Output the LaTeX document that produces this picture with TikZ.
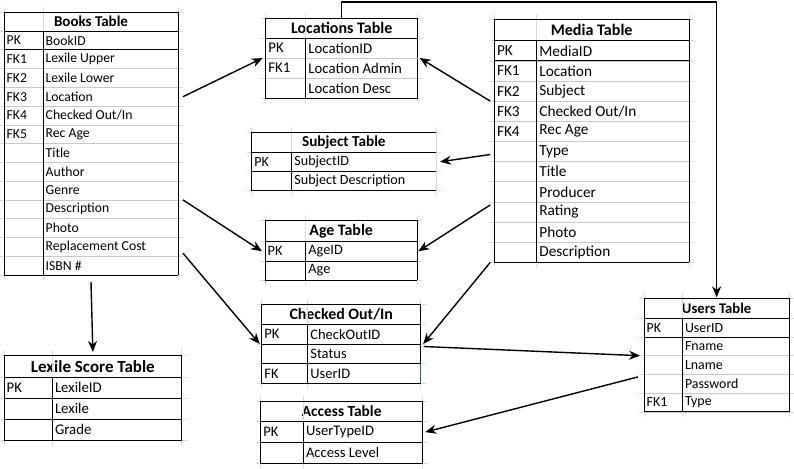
\documentclass[tikz,border=0pt]{standalone}
\usepackage{fontspec}
\setmainfont{Carlito}
\usepackage{tikz}
\usetikzlibrary{arrows.meta}
\definecolor{Grid}{HTML}{DADADA}
\definecolor{Rule}{HTML}{C8C8C8}
\definecolor{XGreen}{HTML}{217346}

\def\dbbody{14.5}
\def\dbhead{15.8}
\tikzset{
  db head/.style={inner sep=0pt, outer sep=0pt, font=\bfseries\fontsize{\dbhead}{\dbhead}\selectfont},
  db row/.style={inner sep=0pt, outer sep=0pt},
  db text/.style={inner sep=2.5pt, font=\fontsize{\dbbody}{\dbbody}\selectfont},
  grid rule/.style={Grid, line width=0.6pt},
  row rule/.style={Rule, line width=0.6pt},
  pk rule/.style={black, line width=0.8pt},
  outer rule/.style={black, line width=0.8pt},
  right rule/.style={outer rule},
  body size/.code={\def\dbbody{#1}},
  head size/.code={\def\dbhead{#1}},
  link/.style={-{Stealth[length=11pt, width=9pt]}, line width=1.4pt},
}

% name, left, top, key width, width, head height, row height, title, rows
\newcommand{\dbtable}[9]{%
  \node[db head, minimum width=#5pt, minimum height=#6pt, anchor=north west] (#1-h) at (#2,#3) {#8};
  \foreach \k/\f [count=\i] in {#9} {
    \node[db row, minimum width=#5pt, minimum height=#7pt, anchor=north west]
      (#1-\i) at (#2,{#3+#6+(\i-1)*#7}) {};
    \node[db text, anchor=west] at (#1-\i.west) {\k};
    \node[db text, anchor=west] at ([xshift=#4pt]#1-\i.west) {\f};
    \draw[grid rule] ([xshift=-5pt]#1-\i.south west) -- ([xshift=5pt]#1-\i.south east);
    \draw[row rule] (#1-\i.south west) -- (#1-\i.south east);
    \xdef\dblast{\i}
  }
  % spreadsheet grid stubs
  \draw[grid rule] ([xshift=-5pt]#1-h.north west) -- ([xshift=5pt]#1-h.north east);
  \draw[grid rule] ([xshift=-5pt]#1-h.south west) -- ([xshift=5pt]#1-h.south east);
  \draw[grid rule] ([yshift=5pt]#1-h.north west) -- ([yshift=-5pt]#1-\dblast.south west);
  \draw[grid rule] ([yshift=5pt]#1-h.north east) -- ([yshift=-5pt]#1-\dblast.south east);
  \draw[grid rule] ([xshift=#4pt, yshift=5pt]#1-h.north west) -- ([xshift=#4pt, yshift=-5pt]#1-\dblast.south west);
  % borders
  \draw[outer rule] (#1-h.north east) -- (#1-h.north west) -- (#1-\dblast.south west) -- (#1-\dblast.south east);
  \draw[right rule] (#1-h.north east) -- (#1-\dblast.south east);
  \draw[outer rule] (#1-h.south west) -- (#1-h.south east);
  \draw[pk rule] (#1-1.south west) -- (#1-1.south east);
  \draw[outer rule] ([xshift=#4pt]#1-h.south west) -- ([xshift=#4pt]#1-\dblast.south west);
}

\begin{document}
\begin{tikzpicture}[x=1pt, y=-1pt]
  \useasboundingbox (0,0) rectangle (794,468);
  \fill[white] (0,0) rectangle (794,468);

  % Left column
  \begin{scope}[body size=13.7, head size=15]
    \dbtable{books}{4}{12}{39}{174}{19}{18.77}{Books Table}{PK/BookID, FK1/Lexile Upper,
      FK2/Lexile Lower, FK3/Location, FK4/Checked Out\slash In, FK5/Rec Age, /Title,
      /Author, /Genre, /Description, /Photo, /Replacement Cost, /ISBN \#}
  \end{scope}
  \begin{scope}[body size=14.8, head size=17, row rule/.style={outer rule}]
    \dbtable{lex}{4}{355}{48.3}{177.7}{22.3}{20.9}{Lexile Score Table}{PK/LexileID, /Lexile, /Grade}
  \end{scope}

  % Middle column
  \begin{scope}[body size=14.8, head size=16, pk rule/.style={row rule}]
    \dbtable{loc}{265.7}{18}{40}{152}{20}{20}{Locations Table}{PK/LocationID,
      FK1/Location Admin, /Location Desc}
  \end{scope}
  \begin{scope}[body size=14.1, head size=15.2, row rule/.style={outer rule}, right rule/.style={draw=none}]
    \dbtable{subj}{251.7}{132.3}{40}{184.3}{20}{19}{Subject Table}{PK/SubjectID, /Subject Description}
  \end{scope}
  \begin{scope}[body size=14.3, head size=15.9, row rule/.style={outer rule}]
    \dbtable{age}{265}{220}{40.7}{152.3}{21.7}{19.2}{Age Table}{PK/AgeID, /Age}
  \end{scope}
  \begin{scope}[body size=14.5, head size=15.9, row rule/.style={outer rule}]
    \dbtable{chk}{261.7}{304.3}{46}{159}{20}{19.7}{Checked Out/In}{PK/CheckOutID, /Status, FK/UserID}
  \end{scope}
  \draw[XGreen, line width=1.2pt] (chk-3.north east) -- (chk-3.south east);
  \begin{scope}[body size=14.6, head size=15.4, row rule/.style={outer rule}]
    \dbtable{acc}{260.7}{401}{42.6}{162}{20.7}{20.8}{Access Table}{PK/UserTypeID, /Access Level}
  \end{scope}

  % Right column
  \begin{scope}[body size=15.3, head size=16.1]
    \dbtable{media}{494.3}{19.3}{42.4}{194.7}{21.4}{20.15}{Media Table}{PK/MediaID,
      FK1/Location, FK2/Subject, FK3/Checked Out\slash In, FK4/Rec Age, /Type, /Title,
      /Producer, /Rating, /Photo, /Description}
  \end{scope}
  \begin{scope}[body size=13.9, head size=14.7]
    \dbtable{users}{644}{298.3}{38.3}{145.3}{20}{18.7}{Users Table}{PK/UserID, /Fname,
      /Lname, /Password, FK1/Type}
  \end{scope}

  % Books links
  \draw[link] ([xshift=5pt]books-4.east) -- ([xshift=-3pt]loc-1.south west);
  \draw[link] ([xshift=5pt]books-9.south east) -- ([xshift=-3pt]age-1.west);
  \draw[link] ([xshift=5pt, yshift=3pt]books-12.south east) -- ([xshift=-2pt]chk-1.south west);
  \draw[link] ([yshift=-7pt]books-13.south) -- ([yshift=3pt]lex-h.north);
  % Media links
  \draw[link] ([xshift=-4pt]media-3.south west) -- ([xshift=2pt]loc-1.south east);
  \draw[link] ([xshift=-4pt, yshift=-3pt]media-6.west) -- ([xshift=4pt]subj-1.east);
  \draw[link] ([xshift=-4pt, yshift=-3pt]media-8.south west) -- ([xshift=1pt]age-1.east);
  \draw[link] ([xshift=-4pt]media-11.south west) -- ([xshift=2.5pt]chk-1.south east);
  % Users links
  \draw[link] ([xshift=3pt, yshift=-2.5pt]chk-1.south east) -- ([xshift=-4pt]users-2.south west);
  \draw[link] ([xshift=-6pt, yshift=-2.5pt]users-4.north west) -- ([xshift=2.5pt]acc-1.east);
  % Locations over the top to Users
  \coordinate (topline) at (0,2);
  \draw[link] (loc-h.north) -- (loc-h.north |- topline) -- (users-h.north |- topline)
    -- ([yshift=1pt]users-h.north);
\end{tikzpicture}
\end{document}
